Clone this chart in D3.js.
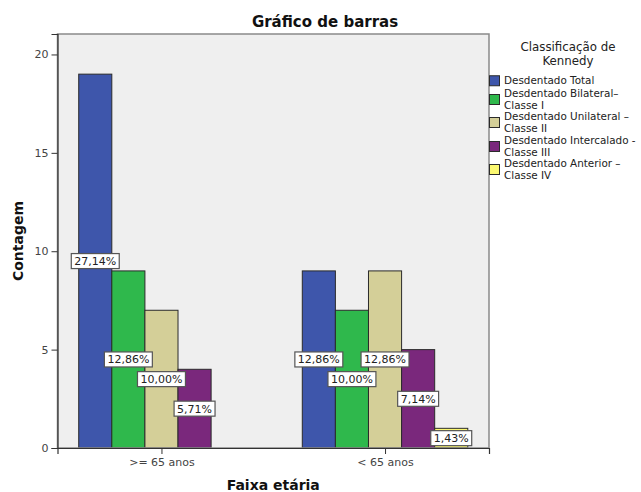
<!DOCTYPE html>
<html>
<head>
<meta charset="utf-8">
<script src="https://cdn.jsdelivr.net/npm/d3@7"></script>
<style>
  html, body { margin: 0; padding: 0; background: #fff; }
  svg { display: block; font-family: "DejaVu Sans", sans-serif; }
</style>
</head>
<body>
<svg id="chart" width="641" height="492"></svg>
<script>
// Age groups on the x axis
const groups = [">= 65 anos", "< 65 anos"];
// Kennedy classification series (legend entries, may wrap onto two lines)
const series = [
  ["Desdentado Total"],
  ["Desdentado Bilateral–", "Classe I"],
  ["Desdentado Unilateral –", "Classe II"],
  ["Desdentado Intercalado -", "Classe III"],
  ["Desdentado Anterior –", "Classe IV"]
];
const seriesColors = ["#3e56ab", "#2fb84c", "#d4cf98", "#7a287c", "#fbf870"];
// Counts per series, one value for each age group
const countsOlder = [19, 9, 7, 4, 0];
const countsYounger = [9, 7, 9, 5, 1];
const yTicks = [0, 5, 10, 15, 20];
const legendTitle = ["Classificação de", "Kennedy"];
const total = d3.sum(countsOlder) + d3.sum(countsYounger);

const svg = d3.select("#chart");
const plot = { left: 57.5, right: 489, top: 34, bottom: 448 };

const y = d3.scaleLinear().domain([0, 21.04]).range([plot.bottom, plot.top]);
const x0 = d3.scalePoint().domain(groups).range([plot.left, plot.right]).padding(0.465);
const barW = 33.1;
const x1 = d3.scaleBand().domain(d3.range(series.length))
  .range([-barW * series.length / 2, barW * series.length / 2]).padding(0);

// Plot background
svg.append("rect")
  .attr("x", plot.left).attr("y", plot.top)
  .attr("width", plot.right - plot.left).attr("height", plot.bottom - plot.top)
  .attr("fill", "#efefef");

const rows = groups.map((g, gi) => ({ group: g, values: gi === 0 ? countsOlder : countsYounger }));

// Bars
const gGroups = svg.selectAll("g.grp").data(rows).join("g")
  .attr("class", "grp")
  .attr("transform", d => `translate(${x0(d.group)},0)`);

gGroups.selectAll("rect.bar")
  .data(d => d.values.map((v, i) => ({ v, i })).filter(e => e.v > 0))
  .join("rect")
  .attr("class", "bar")
  .attr("x", d => x1(d.i))
  .attr("width", x1.bandwidth())
  .attr("y", d => y(d.v))
  .attr("height", d => y(0) - y(d.v))
  .attr("fill", d => seriesColors[d.i])
  .attr("stroke", "#2b2b2b")
  .attr("stroke-width", 1);

// Percentage labels at mid-height of each bar
const fmt = v => (v * 100 / total).toFixed(2).replace(".", ",") + "%";
gGroups.each(function (d) {
  const g = d3.select(this);
  d.values.forEach((v, i) => {
    if (v <= 0) return;
    const cx = x1(i) + x1.bandwidth() / 2;
    const cy = y(v / 2);
    const lab = g.append("g").attr("transform", `translate(${cx},${cy})`);
    const t = lab.append("text")
      .attr("text-anchor", "middle")
      .attr("dy", "0.35em")
      .attr("font-size", 11)
      .attr("fill", "#222")
      .text(fmt(v));
    const w = t.node().getComputedTextLength() + 6;
    lab.insert("rect", "text")
      .attr("x", -w / 2).attr("y", -7.5)
      .attr("width", w).attr("height", 15)
      .attr("fill", "#fff")
      .attr("stroke", "#555")
      .attr("stroke-width", 1.2);
  });
});

// Plot frame
svg.append("rect")
  .attr("x", plot.left).attr("y", plot.top)
  .attr("width", plot.right - plot.left).attr("height", plot.bottom - plot.top)
  .attr("fill", "none")
  .attr("stroke", "#8a8a8a")
  .attr("stroke-width", 1.5);

// Y axis
const yAxis = d3.axisLeft(y).tickValues(yTicks).tickSize(6).tickPadding(3);
const gy = svg.append("g").attr("transform", `translate(${plot.left},0)`).call(yAxis);
gy.select(".domain").attr("stroke", "#333").attr("stroke-width", 1.2);
gy.selectAll(".tick line").attr("stroke", "#333");
gy.selectAll(".tick text").attr("font-size", 11).attr("fill", "#444")
  .attr("font-family", "DejaVu Sans, sans-serif");

// X axis
const xAxis = d3.axisBottom(x0).tickSize(6).tickPadding(4);
const gx = svg.append("g").attr("transform", `translate(0,${plot.bottom})`).call(xAxis);
gx.select(".domain").attr("stroke", "#333").attr("stroke-width", 1.2);
gx.selectAll(".tick line").attr("stroke", "#333");
gx.selectAll(".tick text").attr("font-size", 11).attr("fill", "#444")
  .attr("font-family", "DejaVu Sans, sans-serif");

// Titles
svg.append("text")
  .attr("x", 325).attr("y", 27)
  .attr("text-anchor", "middle")
  .attr("font-size", 15).attr("font-weight", "bold").attr("fill", "#111")
  .text("Gráfico de barras");

svg.append("text")
  .attr("x", (plot.left + plot.right) / 2).attr("y", 490)
  .attr("text-anchor", "middle")
  .attr("font-size", 14).attr("font-weight", "bold").attr("fill", "#111")
  .text("Faixa etária");

svg.append("text")
  .attr("transform", `translate(23,${(plot.top + plot.bottom) / 2}) rotate(-90)`)
  .attr("text-anchor", "middle")
  .attr("font-size", 14).attr("font-weight", "bold").attr("fill", "#111")
  .text("Contagem");

// Legend
const legend = svg.append("g");
legend.selectAll("text.ltitle").data(legendTitle).join("text")
  .attr("class", "ltitle")
  .attr("x", 568).attr("y", (d, i) => 51 + i * 13.5)
  .attr("text-anchor", "middle")
  .attr("font-size", 11.8).attr("fill", "#222")
  .text(d => d);

const itemTop = [75, 88, 111, 135, 158];
series.forEach((lines, i) => {
  const top = itemTop[i];
  const h = lines.length * 11.5;
  legend.append("rect")
    .attr("x", 489.5).attr("y", top + h / 2 - 5)
    .attr("width", 10).attr("height", 10)
    .attr("fill", seriesColors[i])
    .attr("stroke", "#2b2b2b").attr("stroke-width", 1);
  lines.forEach((line, j) => {
    legend.append("text")
      .attr("x", 504)
      .attr("y", top + 9 + j * 11.5)
      .attr("font-size", 10.4).attr("fill", "#222")
      .text(line);
  });
});
</script>
</body>
</html>
